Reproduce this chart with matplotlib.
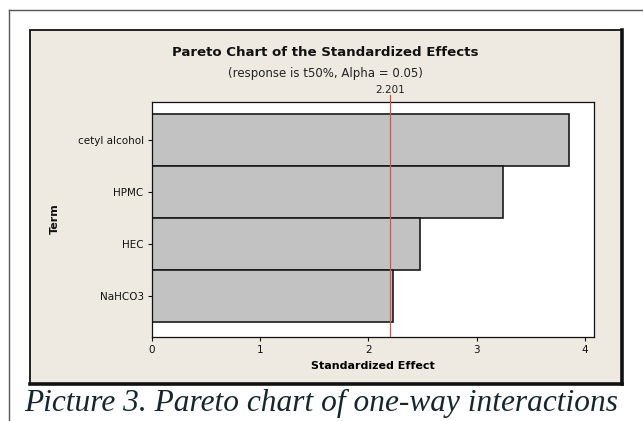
import matplotlib.pyplot as plt
from matplotlib.patches import Rectangle
from matplotlib.lines import Line2D

terms = ["cetyl alcohol", "HPMC", "HEC", "NaHCO3"]
effects = [3.85, 3.24, 2.48, 2.23]
t_crit = 2.201
x_ticks = [0, 1, 2, 3, 4]

fig = plt.figure(figsize=(6.43, 4.21), dpi=100)
fig.patch.set_facecolor("white")
W, H = 643.0, 421.0


def fx(px):
    return px / W


def fy(py):
    return 1 - py / H


# outer page frame (top and left only)
fig.add_artist(Line2D([fx(9), 1], [fy(10), fy(10)], color="#555555", lw=1.0))
fig.add_artist(Line2D([fx(9), fx(9)], [fy(10), 0], color="#555555", lw=1.0))

# beige graph panel with shadowed right/bottom edge
fig.add_artist(Rectangle((fx(30), fy(384)), fx(622) - fx(30), fy(30) - fy(384),
                         facecolor="#EEEAE1", edgecolor="#111111", lw=1.3, zorder=0))
fig.add_artist(Line2D([fx(622), fx(622)], [fy(384), fy(30)], color="#111111", lw=2.6))
fig.add_artist(Line2D([fx(30), fx(622)], [fy(384), fy(384)], color="#111111", lw=2.6))

ax = fig.add_axes([fx(152), fy(337), fx(594) - fx(152), fy(102) - fy(337)])
ax.set_facecolor("white")

ypos = list(range(len(terms)))[::-1]
ax.barh(ypos, effects, height=1.0, color="#C2C2C2", edgecolor="#1A1A1A", lw=1.2, zorder=2)
ax.axvline(t_crit, color="#C85A4A", lw=0.9, zorder=3)

ax.set_xlim(0, 4.085)
ax.set_ylim(-0.79, 3.73)
ax.set_xticks(x_ticks)
ax.set_xticklabels([str(v) for v in x_ticks], fontsize=7.5)
ax.set_yticks(ypos)
ax.set_yticklabels(terms, fontsize=7.5)
ax.tick_params(axis="both", direction="out", length=3, width=0.8, colors="#111111", pad=3)
for s in ax.spines.values():
    s.set_color("#111111")
    s.set_linewidth(0.9)

# critical value marker above the plot
ax.plot([t_crit, t_crit], [1.0, 1.03], color="#C85A4A", lw=0.9,
        transform=ax.get_xaxis_transform(), clip_on=False)
ax.text(t_crit, 1.03, "2.201", transform=ax.get_xaxis_transform(),
        ha="center", va="bottom", fontsize=7.5, color="#222222")

ax.set_xlabel("Standardized Effect", fontsize=8, fontweight="bold", labelpad=4)
fig.text(fx(55), fy(219), "Term", rotation=90, ha="center", va="center",
         fontsize=8, fontweight="bold", color="#111111")

fig.text(fx(325), fy(53), "Pareto Chart of the Standardized Effects",
         ha="center", va="center", fontsize=9.6, fontweight="bold", color="#111111")
fig.text(fx(325), fy(73), "(response is t50%, Alpha = 0.05)",
         ha="center", va="center", fontsize=8.5, color="#222222")

fig.text(fx(321), fy(403), "Picture 3. Pareto chart of one-way interactions",
         ha="center", va="center", fontsize=22.6, style="italic",
         family="Liberation Serif", color="#15262E")

fig.savefig("out.png", dpi=100, facecolor="white")
